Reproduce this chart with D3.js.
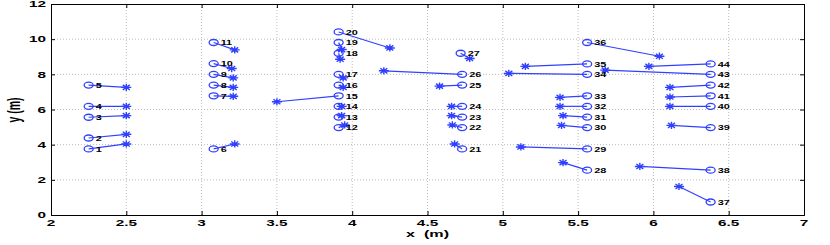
<!DOCTYPE html>
<html>
<head>
<meta charset="utf-8">
<script src="https://cdn.jsdelivr.net/npm/d3@7"></script>
<style>
  body { margin: 0; background: #fff; }
  text { font-family: "Liberation Sans", Arial, sans-serif; font-weight: bold; }
</style>
</head>
<body>
<div id="chart"></div>
<script>
// point numbers, estimated positions (o) and true positions (*)
const ids = d3.range(1, 45);
const estX = [2.25, 2.25, 2.25, 2.25, 2.25,
  3.08, 3.08, 3.08, 3.08, 3.08, 3.08,
  3.91, 3.91, 3.91, 3.91, 3.91, 3.91, 3.91, 3.91, 3.91,
  4.73, 4.73, 4.73, 4.73, 4.73, 4.73, 4.72,
  5.56, 5.56, 5.56, 5.56, 5.56, 5.56, 5.56, 5.56, 5.56,
  6.38, 6.38, 6.38, 6.38, 6.38, 6.38, 6.38, 6.38];
const estY = [3.76, 4.38, 5.56, 6.18, 7.39,
  3.76, 6.78, 7.39, 8.0, 8.61, 9.81,
  4.97, 5.57, 6.18, 6.78, 7.39, 8.0, 9.2, 9.81, 10.41,
  3.76, 4.97, 5.57, 6.18, 7.39, 8.0, 9.2,
  2.55, 3.76, 4.97, 5.57, 6.18, 6.78, 8.0, 8.59, 9.81,
  0.74, 2.55, 4.97, 6.18, 6.78, 7.39, 8.0, 8.59];
const trueX = [2.5, 2.5, 2.5, 2.5, 2.5,
  3.22, 3.21, 3.21, 3.21, 3.2, 3.22,
  3.95, 3.93, 3.93, 3.5, 3.94, 3.94, 3.92, 3.93, 4.25,
  4.68, 4.665, 4.66, 4.66, 4.58, 4.21, 4.78,
  5.4, 5.12, 5.39, 5.4, 5.38, 5.38, 5.04, 5.15, 6.04,
  6.17, 5.91, 6.12, 6.11, 6.11, 6.11, 5.68, 5.97];
const trueY = [4.04, 4.59, 5.65, 6.18, 7.26,
  4.04, 6.75, 7.26, 7.8, 8.33, 9.39,
  5.12, 5.65, 6.18, 6.44, 7.26, 7.8, 8.86, 9.41, 9.5,
  4.04, 5.12, 5.65, 6.18, 7.33, 8.2, 8.9,
  2.98, 3.87, 5.1, 5.65, 6.18, 6.69, 8.05, 8.45, 9.03,
  1.62, 2.76, 5.1, 6.18, 6.71, 7.26, 8.24, 8.45];
const xTicks = [2, 2.5, 3, 3.5, 4, 4.5, 5, 5.5, 6, 6.5, 7];
const yTicks = [0, 2, 4, 6, 8, 10, 12];

(function() {
  const W = 830, H = 245;
  const pLeft = 51, pRight = 804, pTop = 4, pBottom = 215;
  const blue = '#3040ff';
  const stretch = 1.7; // the figure is stretched sideways

  const x = d3.scaleLinear().domain([2, 7]).range([pLeft, pRight]);
  const y = d3.scaleLinear().domain([0, 12]).range([pBottom, pTop]);

  const svg = d3.select('#chart').append('svg')
    .attr('width', W).attr('height', H);

  // grid
  svg.append('g').selectAll('line')
    .data(xTicks.slice(1, -1)).enter().append('line')
    .attr('x1', d => x(d)).attr('x2', d => x(d))
    .attr('y1', pTop).attr('y2', pBottom)
    .attr('stroke', '#bbb').attr('stroke-dasharray', '1,2');
  svg.append('g').selectAll('line')
    .data(yTicks.slice(1, -1)).enter().append('line')
    .attr('x1', pLeft).attr('x2', pRight)
    .attr('y1', d => y(d)).attr('y2', d => y(d))
    .attr('stroke', '#bbb').attr('stroke-dasharray', '1,2');

  // axes (ticks inside)
  const axB = svg.append('g').attr('transform', `translate(0,${pBottom})`)
    .call(d3.axisBottom(x).tickValues(xTicks).tickSize(-4).tickFormat(''));
  const axT = svg.append('g').attr('transform', `translate(0,${pTop})`)
    .call(d3.axisTop(x).tickValues(xTicks).tickSize(-4).tickFormat(''));
  const axL = svg.append('g').attr('transform', `translate(${pLeft},0)`)
    .call(d3.axisLeft(y).tickValues(yTicks).tickSize(-4).tickFormat(''));
  const axR = svg.append('g').attr('transform', `translate(${pRight},0)`)
    .call(d3.axisRight(y).tickValues(yTicks).tickSize(-4).tickFormat(''));
  [axB, axT, axL, axR].forEach(a => {
    a.selectAll('path').attr('stroke', '#000').attr('stroke-width', 1);
    a.selectAll('line').attr('stroke', '#000');
  });

  // tick labels
  svg.append('g').selectAll('text')
    .data(xTicks).enter().append('text')
    .attr('transform', d => `translate(${x(d)},226) scale(${stretch},1)`)
    .attr('text-anchor', 'middle')
    .style('font-size', '9px')
    .text(d => d);
  svg.append('g').selectAll('text')
    .data(yTicks).enter().append('text')
    .attr('transform', d => `translate(46,${y(d) + 3.3}) scale(${stretch},1)`)
    .attr('text-anchor', 'end')
    .style('font-size', '9px')
    .text(d => d);

  // axis titles
  svg.append('text')
    .attr('transform', `translate(${(pLeft + pRight) / 2},237) scale(${stretch},1)`)
    .attr('text-anchor', 'middle')
    .style('font-size', '9.5px')
    .style('white-space', 'pre')
    .text('x  (m)');
  svg.append('text')
    .attr('transform', `translate(20,110) scale(${stretch},1) rotate(-90)`)
    .attr('text-anchor', 'middle')
    .style('font-size', '10.5px')
    .text('y (m)');

  const pts = ids.map((id, i) => ({ id, ex: estX[i], ey: estY[i], tx: trueX[i], ty: trueY[i] }));

  // connecting lines
  svg.append('g').selectAll('line')
    .data(pts).enter().append('line')
    .attr('x1', d => x(d.ex)).attr('y1', d => y(d.ey))
    .attr('x2', d => x(d.tx)).attr('y2', d => y(d.ty))
    .attr('stroke', blue).attr('stroke-width', 1.2);

  // estimated positions (o)
  svg.append('g').selectAll('ellipse')
    .data(pts).enter().append('ellipse')
    .attr('cx', d => x(d.ex)).attr('cy', d => y(d.ey))
    .attr('rx', 4.5).attr('ry', 3)
    .attr('fill', 'none').attr('stroke', blue).attr('stroke-width', 1.3);

  // true positions (*)
  const sx = 5, sy = 3.6;
  const star = `M${-sx},0H${sx}M0,${-sy}V${sy}M${-sx * 0.7},${-sy * 0.7}L${sx * 0.7},${sy * 0.7}M${-sx * 0.7},${sy * 0.7}L${sx * 0.7},${-sy * 0.7}`;
  svg.append('g').selectAll('path')
    .data(pts).enter().append('path')
    .attr('d', star)
    .attr('transform', d => `translate(${x(d.tx)},${y(d.ty)})`)
    .attr('fill', 'none').attr('stroke', blue).attr('stroke-width', 1.4);

  // point numbers
  svg.append('g').selectAll('text')
    .data(pts).enter().append('text')
    .attr('transform', d => `translate(${x(d.ex) + 7},${y(d.ey) + 2.8}) scale(1.45,1)`)
    .style('font-size', '7.5px')
    .attr('fill', '#000')
    .text(d => d.id);
})();
</script>
</body>
</html>
